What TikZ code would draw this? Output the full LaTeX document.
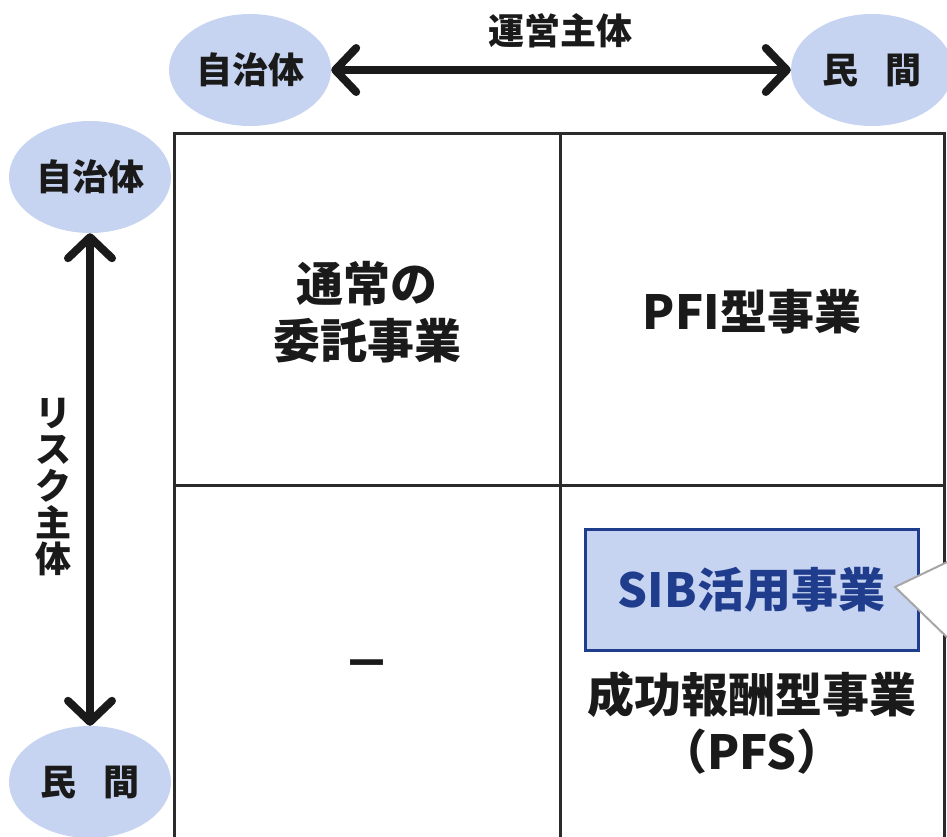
\documentclass[tikz,border=0pt]{standalone}
\usepackage{fontspec}
\setmainfont{Noto Sans CJK JP}
\usetikzlibrary{shapes.geometric,arrows.meta}
\definecolor{ell}{HTML}{C6D4F1}
\definecolor{sibblue}{HTML}{1F3D8C}
\definecolor{ink}{HTML}{1A1A1A}
\definecolor{gridc}{HTML}{2B2B2B}
\definecolor{callgrey}{HTML}{A6A6A6}
\tikzset{
  bubble/.style={ellipse, fill=ell, inner sep=0pt, minimum width=162pt, minimum height=112pt,
    font=\fontsize{36}{40}\selectfont\bfseries, text=ink},
  axislabel/.style={font=\fontsize{36}{36.6}\selectfont\bfseries, text=ink, inner sep=0pt, align=center},
  celltext/.style={font=\fontsize{47}{57}\selectfont\bfseries, text=ink, align=center, inner sep=0pt},
  twoway/.style={line width=8pt, draw=ink,
    {Straight Barb[length=21pt,width=44pt,round]}-{Straight Barb[length=21pt,width=44pt,round]}},
  gridline/.style={draw=gridc, line width=3pt},
  sibbox/.style={draw=sibblue, line width=3pt, fill=ell, text=sibblue, minimum width=333pt,
    minimum height=121pt, inner sep=0pt, font=\fontsize{47}{57}\selectfont\bfseries},
  callout/.style={fill=white, draw=callgrey, line width=2pt, line join=miter},
}
\begin{document}
\begin{tikzpicture}[x=1pt,y=-1pt]
\useasboundingbox (0,0) rectangle (947,836);
\begin{scope}
\clip (0,0) rectangle (947,836);
% grid
\draw[gridline] (174,133) rectangle (944,900);
\draw[gridline] (560,133) -- (560,900);
\draw[gridline] (174,485) -- (944,485);
% ellipses
\node[bubble] (opgov) at (250,70) {自治体};
\node[bubble] (oppriv) at (872,70) {民\hspace{0.75em}間};
\node[bubble] (riskgov) at (90,177) {自治体};
\node[bubble] (riskpriv) at (90,782) {民\hspace{0.75em}間};
% axis arrows
\draw[twoway] (opgov) -- (oppriv);
\draw[twoway] (riskgov) -- (riskpriv);
\node[axislabel] (oplabel) at (560,31) {運営主体};
\node[axislabel] (risklabel) at (53,487) {リ\\ス\\ク\\主\\体};
% cells
\node[celltext] (c11) at (367,312) {通常の\\委託事業};
\node[celltext] (c12) at (752,312) {PFI型事業};
\node[celltext] (c21) at (367,670) {－};
\node[sibbox] (sib) at (751.5,590) {SIB活用事業};
\node[celltext] (c22) at (752,723) {成功報酬型事業\\（PFS）};
% callout
\draw[callout] (1010,532) -- (895,587) -- (1010,698);
\end{scope}
\end{tikzpicture}
\end{document}
